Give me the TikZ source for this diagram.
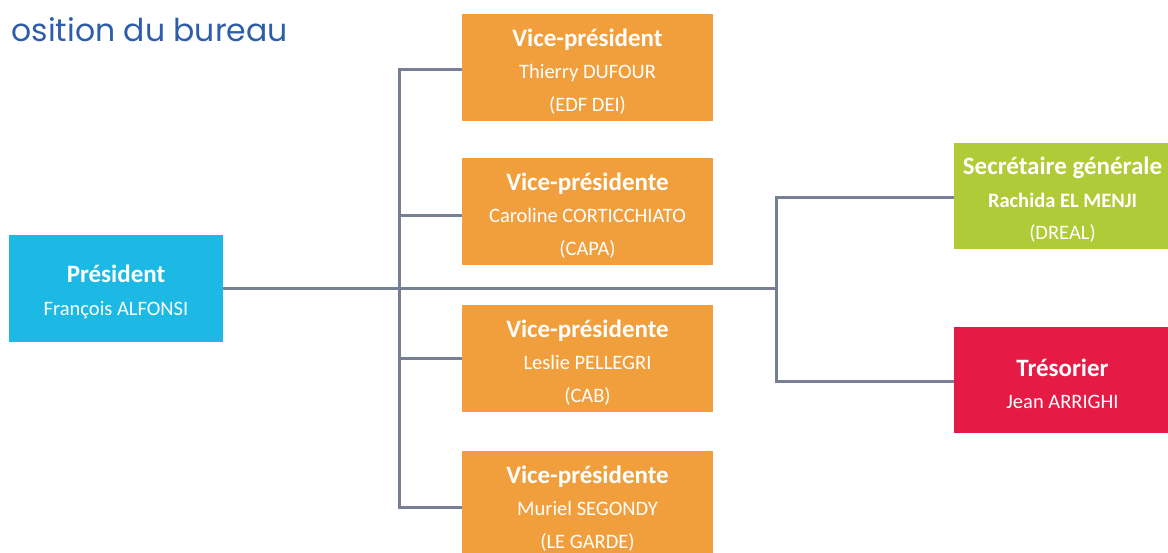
\documentclass[tikz,border=0pt]{standalone}
\usepackage{fontspec}
\setmainfont{Carlito}
\newfontfamily\titlefont{Poppins}
\definecolor{presblue}{HTML}{1CB9E4}
\definecolor{vporange}{HTML}{F19F3C}
\definecolor{secgreen}{HTML}{B0CB37}
\definecolor{tresred}{HTML}{E51A45}
\definecolor{linegray}{HTML}{767F93}
\definecolor{titleblue}{HTML}{2E5EAA}
\tikzset{
  card/.style={rectangle, inner sep=0pt, text=white, align=center,
    font=\fontsize{20.5}{32.5}\selectfont},
  vpcard/.style={card, fill=vporange, minimum width=251pt, minimum height=107pt},
  sidecard/.style={card, minimum width=217pt, minimum height=106pt},
  conn/.style={draw=linegray, line width=3pt, miter limit=10}
}
\newcommand{\cardtitle}[1]{{\bfseries\fontsize{25}{32.5}\selectfont\rule{0pt}{25pt}#1}}
\begin{document}
\begin{tikzpicture}[x=1pt,y=-1pt]
\useasboundingbox[fill=white] (0,0) rectangle (1168,552);
% title
\node[anchor=base east, inner sep=0pt, text=titleblue,
  font=\titlefont\fontsize{31.5}{36}\selectfont] (title) at (288,41) {osition du bureau};
% boxes
\node[card, fill=presblue, minimum width=214pt, minimum height=107pt] (pres) at (116,288)
  {\cardtitle{Président}\\François ALFONSI};
\node[vpcard] (vp1) at (587.5,67.5) {\cardtitle{Vice-président}\\Thierry DUFOUR\\(EDF DEI)};
\node[vpcard] (vp2) at (587.5,211.5) {\cardtitle{Vice-présidente}\\Caroline CORTICCHIATO\\(CAPA)};
\node[vpcard] (vp3) at (587.5,358.5) {\cardtitle{Vice-présidente}\\Leslie PELLEGRI\\(CAB)};
\node[vpcard] (vp4) at (587.5,504.5) {\cardtitle{Vice-présidente}\\Muriel SEGONDY\\(LE GARDE)};
\node[sidecard, fill=secgreen] (sec) at (1062.5,196)
  {\cardtitle{Secrétaire générale}\\\textbf{Rachida EL MENJI}\\(DREAL)};
\node[sidecard, fill=tresred] (tres) at (1062.5,380) {\cardtitle{Trésorier}\\Jean ARRIGHI};
% junction points
\coordinate (t1) at (399,69);
\coordinate (t2) at (399,215);
\coordinate (t3) at (399,358);
\coordinate (t4) at (399,507);
\coordinate (jr) at (776,288);
\coordinate (s1) at (776,197);
\coordinate (s2) at (776,381);
% connectors
\draw[conn] (pres.east) -- (jr);
\draw[conn] (t1 -| vp1.west) -- (t1) -- (t4) -- (t4 -| vp4.west);
\draw[conn] (t2) -- (t2 -| vp2.west);
\draw[conn] (t3) -- (t3 -| vp3.west);
\draw[conn] (s1 -| sec.west) -- (s1) -- (s2) -- (s2 -| tres.west);
\end{tikzpicture}
\end{document}
